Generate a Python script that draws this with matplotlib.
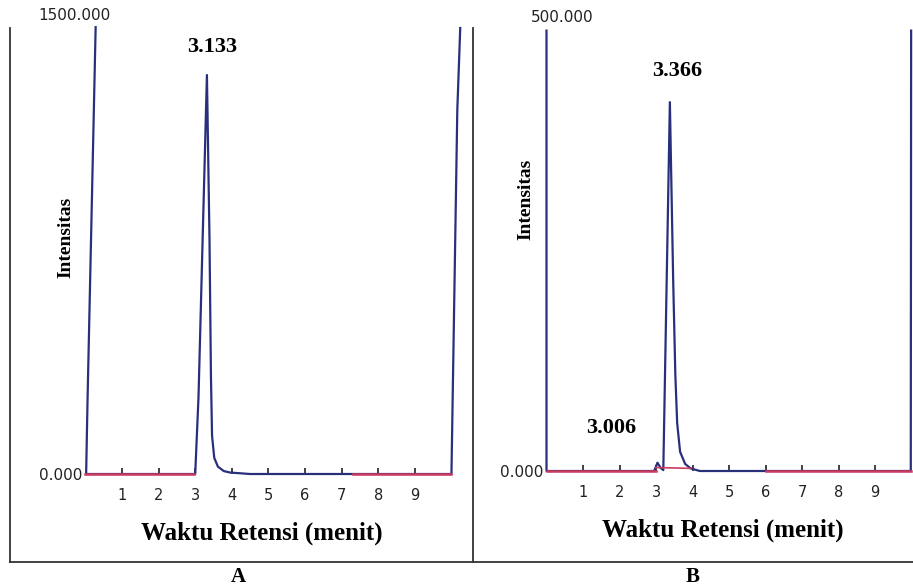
import matplotlib.pyplot as plt
from matplotlib.lines import Line2D

W, H = 913, 588

# chromatogram A (time in min, intensity)
time_a = [0.28, 0.06, 0.02, 3.00, 3.09, 3.32, 3.39, 3.43, 3.46, 3.52, 3.62, 3.78, 3.95, 4.50,
          10.00, 10.16, 10.24]
int_a = [1520, 260, 0, 0, 262, 1357, 800, 330, 130, 55, 25, 10, 5, 0,
         0, 1238, 1517]

# chromatogram B
time_b = [0.00, 0.00, 2.95, 3.04, 3.13, 3.20, 3.38, 3.47, 3.53, 3.58, 3.66, 3.80, 3.95, 4.20,
          9.98, 9.99]
int_b = [505, 0, 0, 9.5, 3.4, 1, 423, 220, 110, 55, 22, 8, 3, 0,
         0, 505]

# red integration baselines
base_a = [(0.0, 2.97), (7.3, 10.0)]
base_b = [(0.0, 3.0), (6.0, 9.98)]
intbase_b_t = [3.0, 3.95]
intbase_b_y = [4, 3]

ticks = [1, 2, 3, 4, 5, 6, 7, 8, 9]
tick_labels = ["1", "2", "3", "4", "5", "6", "7", "8", "9"]

peaks_a = [("3.133", 212, 47)]
peaks_b = [("3.366", 677, 71), ("3.006", 611, 428)]

NAVY = "#28307c"
RED = "#cc3a60"
SERIF = "Liberation Serif"


def fx(px):
    return px / W


def fy(py):
    return 1 - py / H


fig = plt.figure(figsize=(9.13, 5.88), dpi=100)
fig.patch.set_facecolor("white")


def make_axes(x0, x1, ybot, ytop, xmax, ymax):
    ax = fig.add_axes([fx(x0), fy(ybot), (x1 - x0) / W, (ybot - ytop) / H])
    ax.set_xlim(0, xmax)
    ax.set_ylim(0, ymax)
    ax.set_facecolor("none")
    for s in ax.spines.values():
        s.set_visible(False)
    ax.set_xticks(ticks, tick_labels)
    ax.tick_params(axis="x", direction="in", length=4, width=1.3, color="#333333",
                   pad=10, labelsize=10.5, labelcolor="#222222")
    ax.set_yticks([0], ["0.000"])
    ax.tick_params(axis="y", length=0, pad=2.5, labelsize=11, labelcolor="#222222")
    return ax


# panel A
axa = make_axes(85.4, 460.6, 474, 27.1, 10.25, 1520)
axa.plot(time_a, int_a, color=NAVY, lw=1.6, clip_on=False, zorder=2)
for t0, t1 in base_a:
    axa.plot([t0, t1], [0, 0], color=RED, lw=1.8, zorder=5, clip_on=False)

# panel B
axb = make_axes(546.5, 911.5, 471, 30.6, 10.0, 505)
axb.plot(time_b, int_b, color=NAVY, lw=1.6, clip_on=False, zorder=2)
for t0, t1 in base_b:
    axb.plot([t0, t1], [0, 0], color=RED, lw=1.8, zorder=5, clip_on=False)
axb.plot(intbase_b_t, intbase_b_y, color=RED, lw=1.2, zorder=5, clip_on=False)

# top scale labels
fig.text(fx(74), fy(16), "1500.000", ha="center", va="center", fontsize=11, color="#222222")
fig.text(fx(562), fy(18), "500.000", ha="center", va="center", fontsize=11, color="#222222")

# peak labels
for lab, px, py in peaks_a + peaks_b:
    fig.text(fx(px), fy(py), lab, ha="center", va="center", family=SERIF,
             fontweight="bold", fontsize=16)

# axis labels
for px, py in [(66, 237), (526, 199)]:
    fig.text(fx(px), fy(py), "Intensitas", ha="center", va="center", rotation=90,
             family=SERIF, fontweight="bold", fontsize=14)
for px, py in [(262, 533), (723, 530)]:
    fig.text(fx(px), fy(py), "Waktu Retensi (menit)", ha="center", va="center",
             family=SERIF, fontweight="bold", fontsize=18)
fig.text(fx(238), fy(577), "A", ha="center", va="center", family=SERIF,
         fontweight="bold", fontsize=15)
fig.text(fx(693), fy(577), "B", ha="center", va="center", family=SERIF,
         fontweight="bold", fontsize=15)

# outer frame
frame = [((10, 10), (28, 562)), ((473, 473), (28, 562)), ((10, 913), (562, 562))]
for xs, ys in frame:
    fig.add_artist(Line2D([fx(xs[0]), fx(xs[1])], [fy(ys[0]), fy(ys[1])],
                          color="#333333", lw=1.3))

fig.savefig("out.png", dpi=100)
